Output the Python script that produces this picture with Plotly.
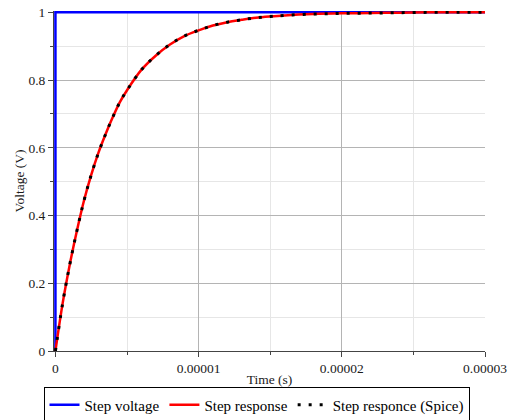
import plotly.graph_objects as go

# ---- data ----
step_time = [0.0, 0.0, 3e-5]
step_voltage = [0.0, 1.0, 1.0]

resp_time = [0, 0.5e-6, 1e-6, 1.5e-6, 2e-6, 2.5e-6, 3e-6, 3.5e-6, 4e-6, 4.5e-6,
             5e-6, 6e-6, 7e-6, 8e-6, 9e-6, 10e-6, 11e-6, 12e-6, 13e-6, 14e-6,
             15e-6, 16e-6, 18e-6, 20e-6, 22e-6, 24e-6, 26e-6, 28e-6, 30e-6]
resp_voltage = [0, 0.14, 0.255, 0.355, 0.445, 0.52, 0.585, 0.64, 0.69, 0.735,
                0.77, 0.83, 0.872, 0.905, 0.93, 0.947, 0.961, 0.971, 0.978, 0.984,
                0.988, 0.991, 0.995, 0.997, 0.998, 0.999, 1.0, 1.0, 1.0]

spice_time = list(resp_time)
spice_voltage = list(resp_voltage)

x_tickvals = [0, 1e-5, 2e-5, 3e-5]
x_ticktext = ["0", "0.00001", "0.00002", "0.00003"]
y_tickvals = [0, 0.2, 0.4, 0.6, 0.8, 1.0]
y_ticktext = ["0", "0.2", "0.4", "0.6", "0.8", "1"]

FONT = "'Liberation Serif', 'Times New Roman', serif"
TXT = "#1a1a1a"

fig = go.Figure()
fig.add_trace(go.Scatter(x=step_time, y=step_voltage, mode="lines",
                         name="Step voltage",
                         line=dict(color="#0000ff", width=2.5)))
fig.add_trace(go.Scatter(x=resp_time, y=resp_voltage, mode="lines",
                         name="Step response", line_shape="spline",
                         line=dict(color="#ff0000", width=2.5)))
fig.add_trace(go.Scatter(x=spice_time, y=spice_voltage, mode="lines",
                         name="Step responce (Spice)", line_shape="spline",
                         line=dict(color="#000000", width=3, dash="3px,8px")))

fig.update_layout(
    width=513, height=420,
    margin=dict(l=54, r=28, t=11, b=69, autoexpand=False),
    paper_bgcolor="white", plot_bgcolor="white",
    font=dict(family=FONT, size=13.5, color=TXT),
    showlegend=True,
    legend=dict(orientation="h", xref="container", yref="container",
                x=0.5, xanchor="center", y=0.0775, yanchor="top",
                bordercolor="#000000", borderwidth=1, bgcolor="white",
                font=dict(family=FONT, size=15, color="#000000"),
                itemwidth=30, tracegroupgap=0),
)
fig.update_xaxes(
    range=[-1e-7, 3e-5],
    tickmode="array", tickvals=x_tickvals, ticktext=x_ticktext,
    tickfont=dict(family=FONT, size=13.5, color=TXT),
    ticks="outside", ticklen=5, tickcolor="#444444",
    showline=True, linecolor="#444444", linewidth=1,
    showgrid=True, gridcolor="#b4b4b4", gridwidth=1,
    zeroline=False,
    minor=dict(dtick=5e-6, tick0=0, ticks="outside", ticklen=3, tickcolor="#444444",
               showgrid=True, gridcolor="#e6e6e6"),
    title=dict(text="Time (s)", standoff=0, font=dict(family=FONT, size=13.5, color=TXT)),
)
fig.update_yaxes(
    range=[0, 1.004],
    tickmode="array", tickvals=y_tickvals, ticktext=y_ticktext,
    tickfont=dict(family=FONT, size=13.5, color=TXT),
    ticks="outside", ticklen=5, tickcolor="#444444",
    showline=True, linecolor="#444444", linewidth=1,
    showgrid=True, gridcolor="#b4b4b4", gridwidth=1,
    zeroline=False,
    minor=dict(dtick=0.1, tick0=0, ticks="outside", ticklen=3, tickcolor="#444444",
               showgrid=True, gridcolor="#e6e6e6"),
    title=dict(text="Voltage (V)", standoff=0, font=dict(family=FONT, size=13.5, color=TXT)),
)

fig.write_html("out.html", config={"displayModeBar": False},
               post_script="document.body.style.margin='0';")
